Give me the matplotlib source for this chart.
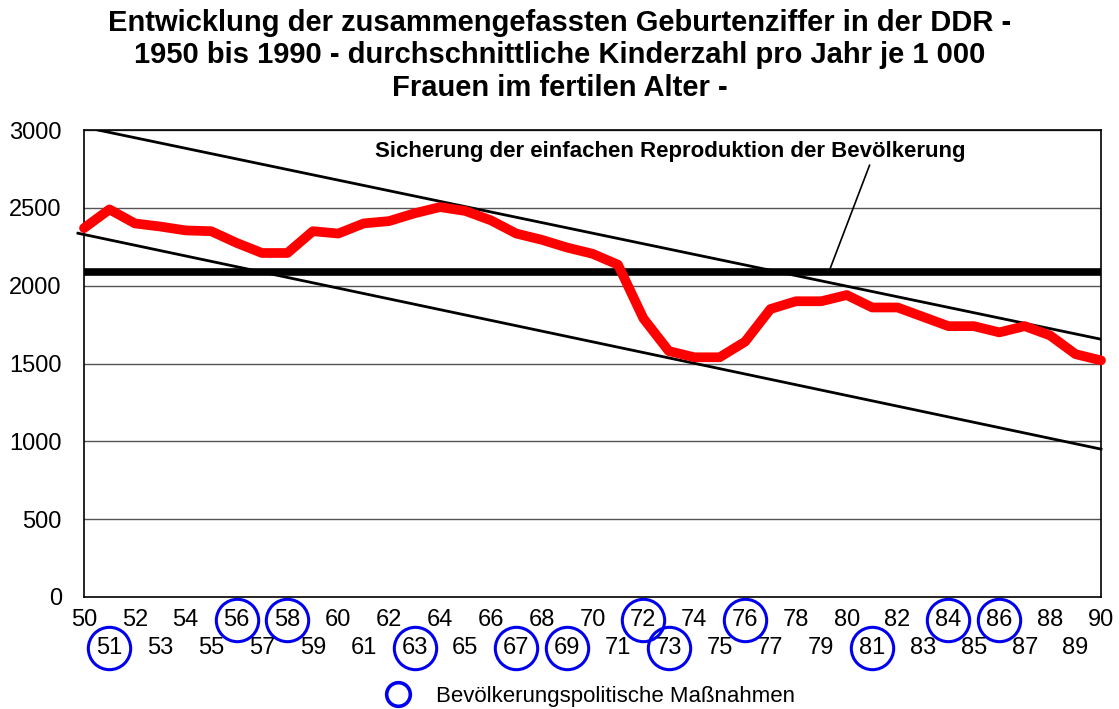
import matplotlib
matplotlib.use("Agg")
from matplotlib import pyplot as plt
from matplotlib.lines import Line2D
import numpy as np

plt.rcParams['font.family'] = ['Liberation Sans', 'DejaVu Sans']

# data
years = np.arange(50, 91)
rate = [2370, 2490, 2400, 2380, 2355, 2350, 2275, 2210, 2210, 2350,
        2335, 2400, 2415, 2465, 2505, 2480, 2420, 2335, 2295, 2245,
        2205, 2135, 1790, 1580, 1540, 1540, 1640, 1850, 1900, 1900,
        1940, 1860, 1860, 1800, 1740, 1740, 1700, 1740, 1680, 1560, 1520]
reproduction = 2090
upper_x, upper_y = [50.55, 90], [3000, 1656]
lower_x, lower_y = [49.76, 90], [2337, 950]
measures = [51, 56, 58, 63, 67, 69, 72, 73, 76, 81, 84, 86]

title = ("Entwicklung der zusammengefassten Geburtenziffer in der DDR -\n"
         "1950 bis 1990 - durchschnittliche Kinderzahl pro Jahr je 1 000\n"
         "Frauen im fertilen Alter -")

fig = plt.figure(figsize=(11.19, 7.09), dpi=100)
ax = fig.add_axes([0.0751, 0.158, 0.9088, 0.6586])

ax.set_xlim(50, 90)
ax.set_ylim(0, 3000)
ax.set_yticks(np.arange(0, 3001, 500))
for v in np.arange(500, 3001, 500):
    ax.axhline(v, color='#555555', lw=1, zorder=1)

ax.plot(upper_x, upper_y, color='black', lw=2, zorder=2)
ax.plot(lower_x, lower_y, color='black', lw=2, zorder=2, clip_on=False)
ax.axhline(reproduction, color='black', lw=5.5, zorder=3)
ax.plot(years, rate, color='#ff0000', lw=7, solid_capstyle='round',
        solid_joinstyle='round', zorder=4, clip_on=False)

ax.text(73.07, 2860, "Sicherung der einfachen Reproduktion der Bevölkerung",
        ha='center', va='center', fontsize=16, fontweight='bold')
ax.annotate('', xy=(79.3, reproduction), xytext=(80.9, 2775),
            arrowprops=dict(arrowstyle='-', lw=1.2, color='black',
                            shrinkA=0, shrinkB=0))

# staggered year labels: evens on top row, odds below
ax.set_xticks(years[::2])
ax.set_xticklabels([str(y) for y in years[::2]])
ax.set_xticks(years[1::2], minor=True)
ax.set_xticklabels([str(y) for y in years[1::2]], minor=True)
ax.tick_params(axis='x', which='major', length=0, pad=9, labelsize=17)
ax.tick_params(axis='x', which='minor', length=0, pad=29, labelsize=17)
ax.tick_params(axis='y', length=0, pad=16, labelsize=17)

for sp in ax.spines.values():
    sp.set_color('black')
    sp.set_linewidth(1.2)

# circles around years with population policy measures
trans = ax.get_xaxis_transform()
for y in measures:
    row = -0.049 if y % 2 == 0 else -0.109
    ax.plot([y], [row], marker='o', ms=30.5, mfc='none', mec='#0000ee',
            mew=2.2, transform=trans, clip_on=False)

fig.suptitle(title, fontsize=21, fontweight='bold', y=0.988, linespacing=1.22)

handle = Line2D([], [], ls='none', marker='o', ms=17, mfc='none',
                mec='#0000ee', mew=2.6)
fig.legend([handle], ["Bevölkerungspolitische Maßnahmen"], loc='lower center',
           bbox_to_anchor=(0.523, -0.025), frameon=False, fontsize=16,
           handletextpad=0.7)

fig.savefig("out.png", dpi=100)
